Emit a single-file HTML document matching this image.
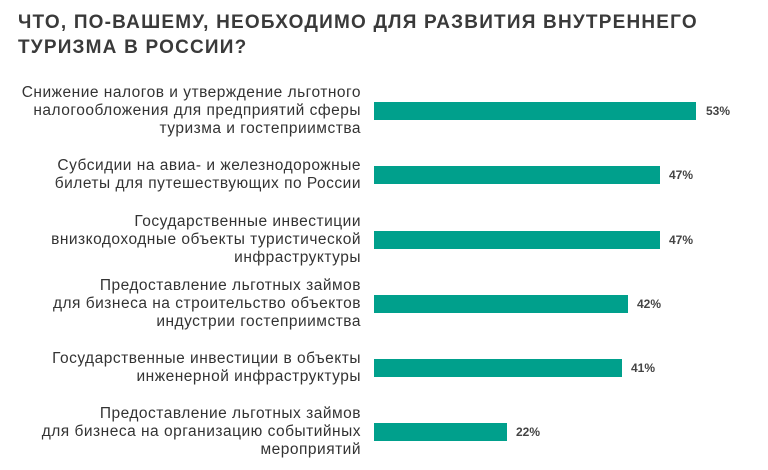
<!DOCTYPE html>
<html><head><meta charset="utf-8"><style>
body{margin:0;width:768px;height:470px;background:#fff;font-family:"Liberation Sans",sans-serif;color:#333;position:relative;overflow:hidden}
.t{position:absolute;left:18px;top:10px;font-size:19px;font-weight:bold;line-height:25px;letter-spacing:1.2px;color:#3a3a3a}
.l{position:absolute;right:407px;text-align:right;font-size:15.5px;line-height:18px;letter-spacing:0.5px;color:#333;white-space:nowrap;transform:translateY(-50%)}
.b{position:absolute;left:374px;height:18px;background:#00a08c;transform:translateY(-50%)}
.v{position:absolute;font-size:12px;font-weight:bold;color:#444;transform:translateY(-50%)}
</style></head><body>
<div class="t">ЧТО, ПО-ВАШЕМУ, НЕОБХОДИМО ДЛЯ РАЗВИТИЯ ВНУТРЕННЕГО<br>ТУРИЗМА В РОССИИ?</div>

<div class="l" style="top:111px">Снижение налогов и утверждение льготного<br>налогообложения для предприятий сферы<br>туризма и гостеприимства</div>
<div class="b" style="top:111px;width:322px"></div><div class="v" style="top:111px;left:706px">53%</div>

<div class="l" style="top:175px">Субсидии на авиа- и железнодорожные<br>билеты для путешествующих по России</div>
<div class="b" style="top:175px;width:286px"></div><div class="v" style="top:175px;left:669px">47%</div>

<div class="l" style="top:240px">Государственные инвестиции<br>внизкодоходные объекты туристической<br>инфраструктуры</div>
<div class="b" style="top:240px;width:286px"></div><div class="v" style="top:240px;left:669px">47%</div>

<div class="l" style="top:304px">Предоставление льготных займов<br>для бизнеса на строительство объектов<br>индустрии гостеприимства</div>
<div class="b" style="top:304px;width:254px"></div><div class="v" style="top:304px;left:637px">42%</div>

<div class="l" style="top:368px">Государственные инвестиции в объекты<br>инженерной инфраструктуры</div>
<div class="b" style="top:368px;width:248px"></div><div class="v" style="top:368px;left:631px">41%</div>

<div class="l" style="top:432px">Предоставление льготных займов<br>для бизнеса на организацию событийных<br>мероприятий</div>
<div class="b" style="top:432px;width:133px"></div><div class="v" style="top:432px;left:516px">22%</div>
</body></html>
